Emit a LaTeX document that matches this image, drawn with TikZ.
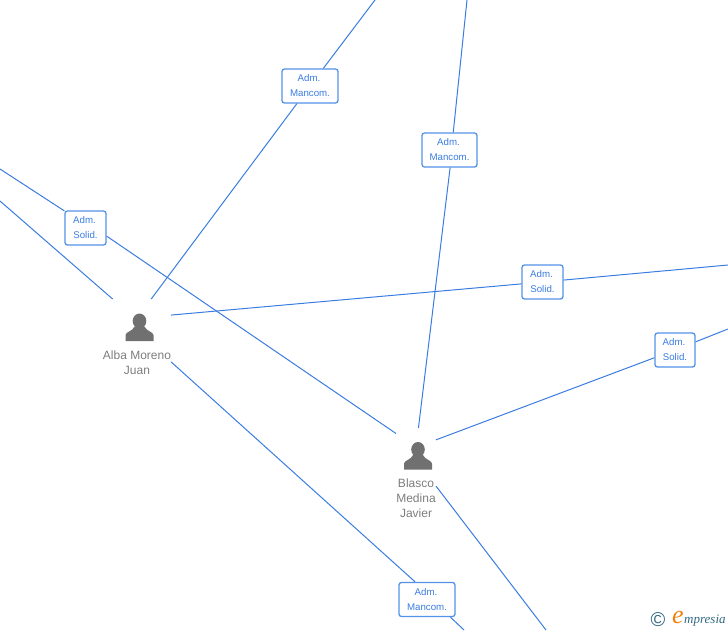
\documentclass[tikz,border=0pt]{standalone}
\usepackage{fontspec}
\setmainfont{Liberation Sans}
\newfontfamily\logofont{Liberation Serif}
\definecolor{lineBlue}{RGB}{58, 124, 224}
\definecolor{boxEdge}{RGB}{84, 146, 232}
\definecolor{nameGrey}{RGB}{125, 125, 125}
\definecolor{iconGrey}{RGB}{112, 112, 112}
\definecolor{logoTeal}{RGB}{48, 104, 128}
\definecolor{logoOrange}{RGB}{240, 130, 20}
\newcommand{\rolelines}[1]{\raisebox{-1.3pt}{Adm.}\hspace*{2pt}\\\raisebox{-1.3pt}{#1}}
\tikzset{
  rolebox/.style={draw=boxEdge, fill=white, rounded corners=2.5pt, line width=1.3pt, text=lineBlue,
    font=\fontsize{9.7}{15}\selectfont, align=center, inner sep=0pt, minimum height=34},
  personbox/.style={inner sep=0pt, outer sep=0pt},
  namelabel/.style={text=nameGrey, font=\fontsize{12}{15}\selectfont, align=center, inner sep=0pt},
  link/.style={lineBlue, line width=1pt},
  pics/personicon/.style={code={
    \fill[iconGrey] (0,-6.5) ellipse (6.8 and 7.5);
    \fill[iconGrey] (-14,13.5) -- (-14,7.5) .. controls (-13.5,4) and (-7,4) .. (-5,-1) -- (5,-1)
      .. controls (7,4) and (13.5,4) .. (14,7.5) -- (14,13.5) -- cycle;
  }}
}
\begin{document}
\begin{tikzpicture}[x=1pt, y=-1pt]
  \useasboundingbox (0,0) rectangle (728,630);

  \node[personbox, minimum width=68, minimum height=78] (alba) at (137,338) {};
  \node[personbox, minimum width=40, minimum height=93] (blasco) at (416,474.5) {};
  \pic at (139.5,327.5) {personicon};
  \pic at (418,456) {personicon};
  \node[namelabel] (albaName) at (137,362.5) {Alba Moreno\\Juan};
  \node[namelabel] (blascoName) at (416,498) {Blasco\\Medina\\Javier};

  \node[rolebox, minimum width=56] (admA) at (310,86) {\rolelines{Mancom.}};
  \node[rolebox, minimum width=55] (admB) at (449.5,150) {\rolelines{Mancom.}};
  \node[rolebox, minimum width=41] (admC) at (85.5,228) {\rolelines{Solid.}};
  \node[rolebox, minimum width=41] (admD) at (542.5,282) {\rolelines{Solid.}};
  \node[rolebox, minimum width=40] (admE) at (675,350) {\rolelines{Solid.}};
  \node[rolebox, minimum width=56] (admF) at (427,599.5) {\rolelines{Mancom.}};

  \coordinate (topA) at (375,0);
  \coordinate (topB) at (467,0);
  \coordinate (leftA) at (0,169);
  \coordinate (leftB) at (0,201);
  \coordinate (rightA) at (728,265);
  \coordinate (rightB) at (728,329);
  \coordinate (downA) at (464,630);
  \coordinate (downB) at (546,630);

  \draw[link] (alba.70) -- (admA);
  \draw[link] (admA) -- (topA);
  \draw[link] (blasco.87) -- (admB.-88);
  \draw[link] (admB.78) -- (topB);
  \draw[link] (leftA) -- (admC.141);
  \draw[link] (admC.-21) -- (blasco.116);
  \draw[link] (leftB) -- (alba.122);
  \draw[link] (alba.34) -- (admD);
  \draw[link] (admD) -- (rightA);
  \draw[link] (blasco.60) -- (admE);
  \draw[link] (admE) -- (rightB);
  \draw[link] (alba.-35) -- (admF.124);
  \draw[link] (admF.-37) -- (downA);
  \draw[link] (blasco.-30) -- (downB);

  \node[text=logoTeal, font=\fontsize{20}{20}\selectfont, inner sep=0pt] (logoMark) at (658,619.5) {©};
  \node[text=logoOrange, font=\logofont\itshape\fontsize{26}{26}\selectfont, inner sep=0pt, anchor=base] (logoE) at (678,623.5) {e};
  \node[text=logoTeal, font=\logofont\itshape\fontsize{13}{13}\selectfont, inner sep=0pt, anchor=base west] (logoText) at (684,623) {mpresia};
\end{tikzpicture}
\end{document}
